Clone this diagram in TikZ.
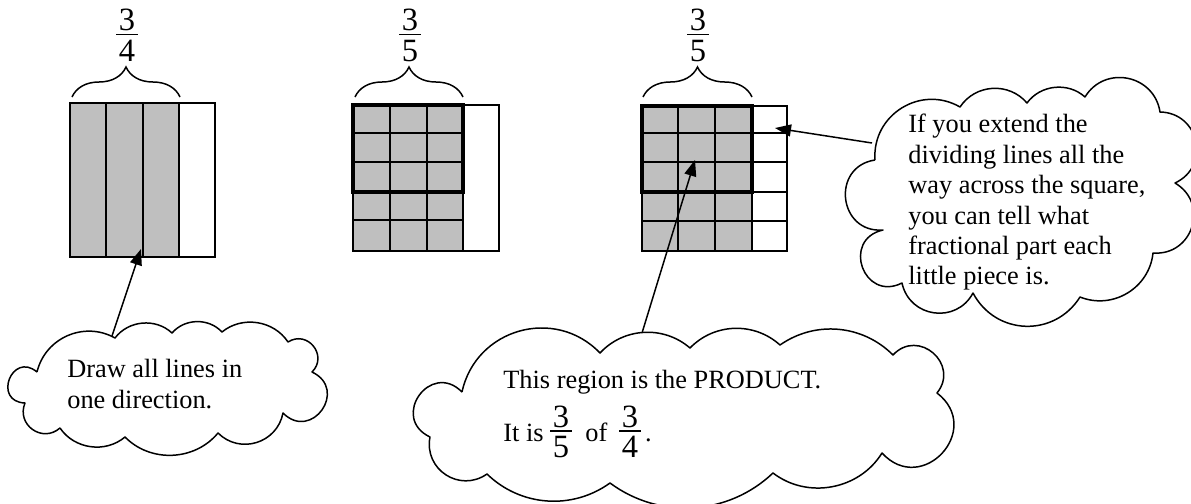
\documentclass[tikz,border=0pt]{standalone}
\usepackage{fontspec}
\setmainfont{Liberation Serif}
\usetikzlibrary{arrows.meta,decorations.pathreplacing}

\setlength{\arrayrulewidth}{0.8pt}
\newcommand{\frc}[2]{{\fontsize{18.5}{20}\selectfont\def\arraystretch{0.3}%
  \begin{tabular}{@{\hspace{1.5pt}}c@{\hspace{1.5pt}}}#1\\\hline\rule{0pt}{14.8pt}#2\end{tabular}}}

\tikzset{
  greycell/.style={fill=black!25},
  gridline/.style={line width=1pt},
  boldbox/.style={line width=2.4pt},
  puffline/.style={line width=0.85pt, line join=round},
  lobe/.style 2 args={bend left=#1, looseness=#2},
  saytext/.style={font=\fontsize{15}{17.3}\selectfont, align=left, inner sep=0pt},
  topbrace/.style={decorate, decoration={brace, amplitude=0.6cm}, line width=0.85pt},
  fracnum/.style={inner sep=0pt},
  pointer/.style={-{Triangle[length=0.32cm,width=0.24cm]}, line width=0.85pt}
}

\begin{document}
\begin{tikzpicture}[x=0.02cm, y=-0.02cm]
  \useasboundingbox (0,0) rectangle (1191,504);

  % first square: three of four columns
  \fill[greycell] (70,103) rectangle (179,257);
  \draw[gridline] (70,103) rectangle (215,257);
  \foreach \cx in {106,143,179}
    \draw[gridline] (\cx,103) -- (\cx,257);
  \draw[topbrace] (72,97) -- (180,97);
  \node[fracnum] (fracA) at (127,37) {\frc{3}{4}};

  % second square: rows only in the shaded part
  \fill[greycell] (353,105) rectangle (463,251);
  \draw[gridline] (353,105) rectangle (499,251);
  \foreach \cx in {390,427,463}
    \draw[gridline] (\cx,105) -- (\cx,251);
  \foreach \ry in {133,162,220}
    \draw[gridline] (353,\ry) -- (463,\ry);
  \draw[boldbox] (353,105) rectangle (463,192);
  \draw[topbrace] (355,97) -- (463,97);
  \node[fracnum] (fracB) at (410,37) {\frc{3}{5}};

  % third square: rows across the whole square
  \fill[greycell] (642,106) rectangle (752,251);
  \draw[gridline] (642,106) rectangle (787,251);
  \foreach \cx in {678,715,752}
    \draw[gridline] (\cx,106) -- (\cx,251);
  \foreach \ry in {133,162,192,221}
    \draw[gridline] (642,\ry) -- (787,\ry);
  \draw[boldbox] (642,106) rectangle (752,192);
  \draw[topbrace] (643,97) -- (752,97);
  \node[fracnum] (fracC) at (698,37) {\frc{3}{5}};

  % clouds
  \draw[puffline] (37,372) to[lobe={53}{1.06}] (115,338) to[lobe={48}{1.0}] (172,333)
    to[lobe={48}{1.0}] (222,332) to[lobe={48}{1.0}] (288,342) to[lobe={84}{1.54}] (312,372)
    to[lobe={100}{2.07}] (283,413) to[lobe={62}{1.16}] (218,433) to[lobe={48}{1.0}] (125,437)
    to[lobe={48}{1.0}] (60,428) to[lobe={77}{1.4}] (25,403) to[lobe={109}{2.52}] (37,372);
  \draw[puffline] (462,392) to[lobe={62}{1.16}] (600,353) to[lobe={44}{0.99}] (690,348)
    to[lobe={44}{0.99}] (780,345) to[lobe={40}{0.97}] (893,355) to[lobe={88}{1.63}] (937,393)
    to[lobe={95}{1.87}] (882,453) to[lobe={48}{1.0}] (773,473) to[lobe={40}{0.97}] (610,483)
    to[lobe={40}{0.97}] (487,474) to[lobe={68}{1.25}] (430,437) to[lobe={100}{2.07}] (462,392);
  \draw[puffline] (875,160) to[lobe={62}{1.16}] (960,107) to[lobe={53}{1.06}] (1027,103)
    to[lobe={48}{1.0}] (1085,97) to[lobe={70}{1.27}] (1160,112) to[lobe={77}{1.4}] (1175,183)
    to[lobe={77}{1.4}] (1153,253) to[lobe={53}{1.06}] (1080,297) to[lobe={60}{1.15}] (973,293)
    to[lobe={70}{1.27}] (902,283) to[lobe={97}{1.95}] (883,230) to[lobe={88}{1.63}] (875,160);

  \node[saytext, anchor=north west] (dirText) at (67,359) {Draw all lines in\\one direction.};
  \node[saytext, anchor=base west] (prodLineA) at (503,388) {This region is the PRODUCT.};
  \node[saytext, anchor=base west] (prodLineB) at (503,441)
    {It is \frc{3}{5}\hspace{4pt} of\hspace{3pt} \frc{3}{4}\,.};
  \node[saytext, anchor=north west] (pieceText) at (908,114)
    {If you extend the\\dividing lines all the\\way across the square,\\you can tell what\\fractional part each\\little piece is.};

  % arrows
  \coordinate (dirTail) at (112,336);
  \coordinate (prodTail) at (642,333);
  \coordinate (pieceTail) at (872,143);
  \coordinate (colTip) at (141,249);
  \coordinate (prodTip) at (695,160);
  \coordinate (pieceTip) at (775,128);
  \draw[pointer] (dirTail) -- (colTip);
  \draw[pointer] (prodTail) -- (prodTip);
  \draw[pointer] (pieceTail) -- (pieceTip);
\end{tikzpicture}
\end{document}
